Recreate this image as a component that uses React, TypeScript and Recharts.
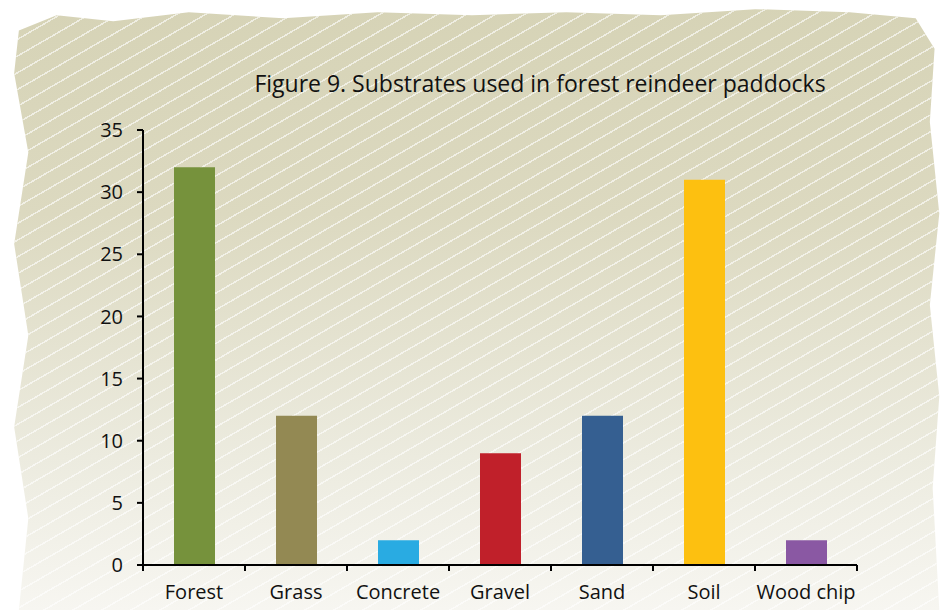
import React from 'react';
import { BarChart, Bar, XAxis, YAxis, Cell } from 'recharts';

const categories = ['Forest', 'Grass', 'Concrete', 'Gravel', 'Sand', 'Soil', 'Wood chip'];
const paddockCounts = [32, 12, 2, 9, 12, 31, 2];
const barColors = ['#76923c', '#938953', '#29abe2', '#c0202a', '#355f91', '#fdc010', '#8a58a3'];
const yTicks = [0, 5, 10, 15, 20, 25, 30, 35];

const data = categories.map((name, i) => ({ name, value: paddockCounts[i] }));

const W = 944;
const H = 610;
const MARGIN = { top: 130, right: 87, bottom: 0, left: 0 };
const Y_AXIS_W = 143;
const X_AXIS_H = 45;
const band = (W - MARGIN.left - Y_AXIS_W - MARGIN.right) / categories.length;
const axisY = H - MARGIN.bottom - X_AXIS_H;

const FONT = "'Open Sans', sans-serif";

// label at band centre, tick marks on band edges (like the original)
function XTick(props: any) {
  const { x, payload, index } = props;
  const left = x - band / 2;
  const right = x + band / 2;
  return (
    <g>
      <line x1={left} y1={axisY} x2={left} y2={axisY + 6} stroke="#000" strokeWidth={2} />
      {index === categories.length - 1 && (
        <line x1={right} y1={axisY} x2={right} y2={axisY + 6} stroke="#000" strokeWidth={2} />
      )}
      <text x={x} y={axisY + 34} textAnchor="middle" fill="#111" fontSize={20} fontFamily={FONT}>
        {payload.value}
      </text>
    </g>
  );
}

export default function App() {
  const clip =
    'polygon(2% 5%, 6% 2.5%, 12% 3.5%, 20% 2%, 30% 3%, 40% 2%, 50% 2.5%, 60% 2%, 70% 2.5%, 80% 1.5%, 90% 2%, 97% 3%, 99% 8%, 98.5% 20%, 99.5% 35%, 98.5% 50%, 99.5% 65%, 98.8% 80%, 99.5% 100%, 2% 100%, 3% 85%, 1.5% 70%, 3% 55%, 1.5% 40%, 3% 25%, 1.5% 12%)';
  return (
    <div style={{ position: 'absolute', left: 0, top: 0, width: W, height: H, background: '#fff', overflow: 'hidden' }}>
      <div
        style={{
          position: 'absolute',
          inset: 0,
          clipPath: clip,
          background:
            'repeating-linear-gradient(150deg, rgba(255,255,255,0) 0px, rgba(255,255,255,0) 13px, rgba(255,255,255,0.6) 13px, rgba(255,255,255,0.6) 14.5px), linear-gradient(180deg, #d6d3b6 0%, #dcd9c0 35%, #ecebdf 75%, #f7f6f1 100%)',
        }}
      />
      <div
        style={{
          position: 'absolute',
          left: 0,
          width: W,
          top: 67,
          textAlign: 'center',
          paddingLeft: 136,
          boxSizing: 'border-box',
          fontFamily: FONT,
          fontSize: 23,
          color: '#111',
        }}
      >
        Figure 9. Substrates used in forest reindeer paddocks
      </div>
      <div style={{ position: 'absolute', left: 0, top: 0 }}>
        <BarChart width={W} height={H} data={data} margin={MARGIN} barSize={41}>
          <XAxis
            dataKey="name"
            height={X_AXIS_H}
            axisLine={{ stroke: '#000', strokeWidth: 2 }}
            tickLine={false}
            tick={<XTick />}
            interval={0}
          />
          <YAxis
            width={Y_AXIS_W}
            domain={[0, 35]}
            ticks={yTicks}
            interval={0}
            axisLine={{ stroke: '#000', strokeWidth: 2 }}
            tickLine={{ stroke: '#000', strokeWidth: 2 }}
            tickSize={6}
            tickMargin={14}
            tick={{ fill: '#111', fontSize: 20, fontFamily: FONT }}
          />
          <Bar dataKey="value" isAnimationActive={false}>
            {data.map((d, i) => (
              <Cell key={d.name} fill={barColors[i]} />
            ))}
          </Bar>
        </BarChart>
      </div>
    </div>
  );
}
